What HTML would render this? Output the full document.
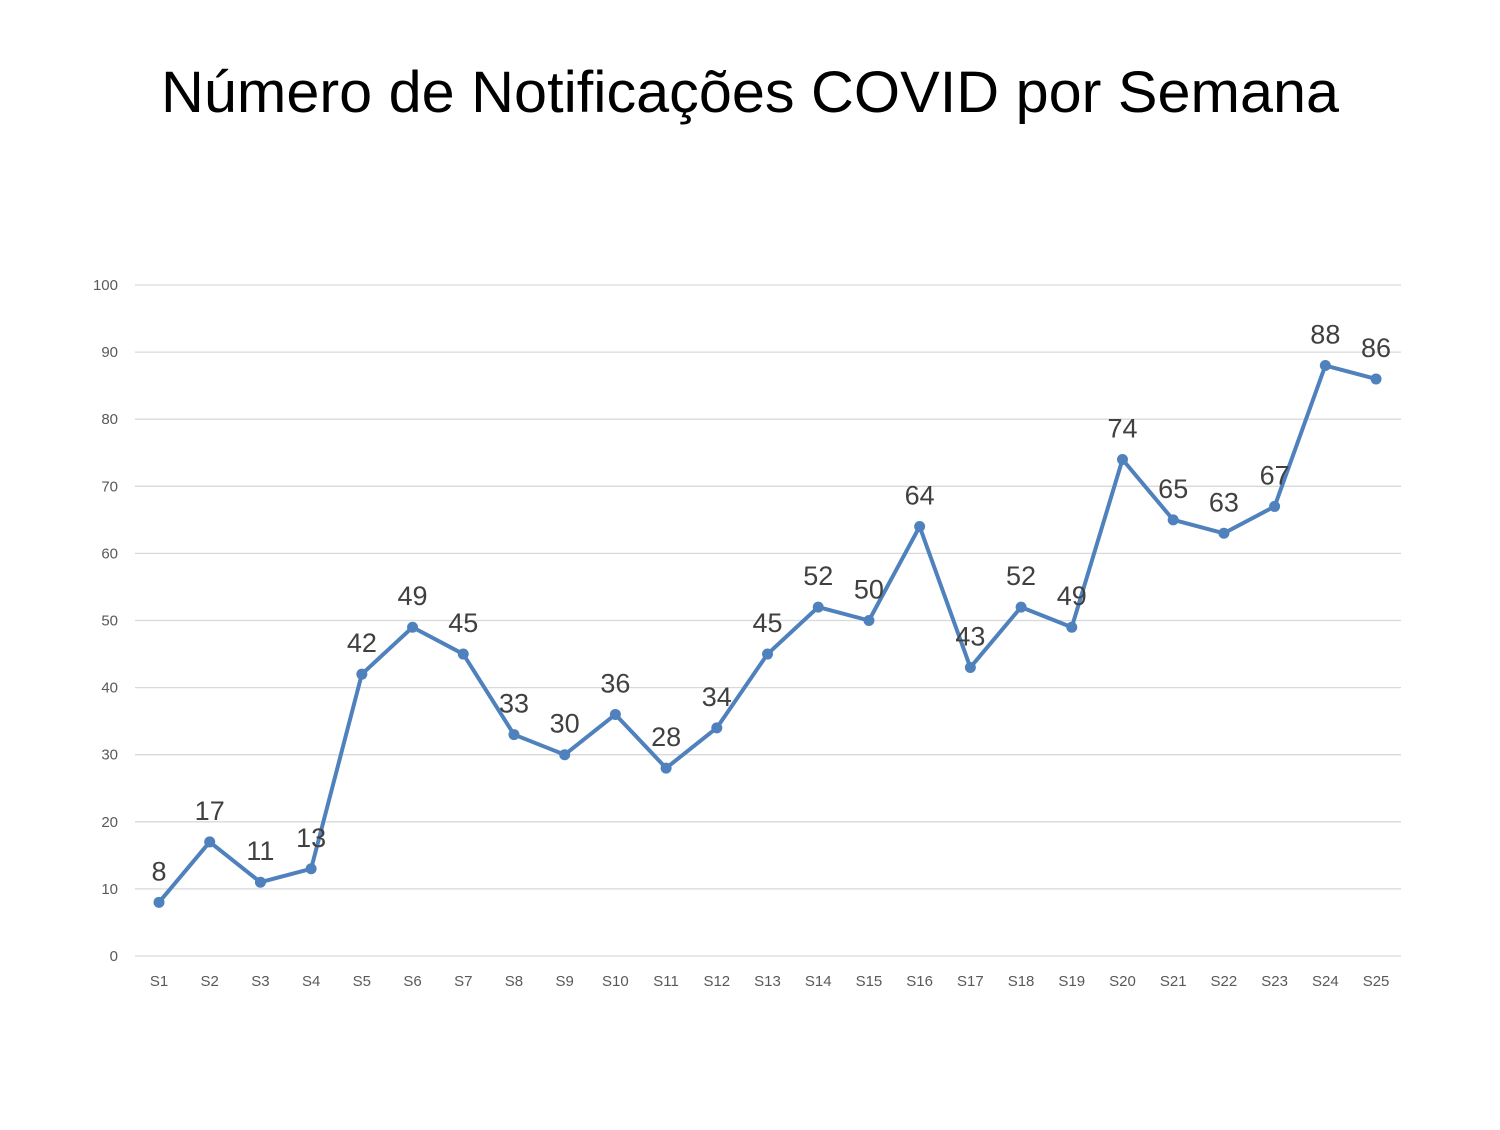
<!DOCTYPE html>
<html><head><meta charset="utf-8"><style>body{margin:0;background:#fff}</style></head><body>
<svg width="1500" height="1125" xmlns="http://www.w3.org/2000/svg" font-family="'Liberation Sans', sans-serif">
<rect width="1500" height="1125" fill="#fff"/>
<text x="750" y="112" text-anchor="middle" font-size="58" fill="#000" textLength="1178" lengthAdjust="spacingAndGlyphs">Número de Notificações COVID por Semana</text>
<g id="grid" stroke="#d9d9d9" stroke-width="1.3"></g>
<g id="yl" font-size="15" fill="#595959" text-anchor="end"></g>
<g id="xl" font-size="15" fill="#595959" text-anchor="middle"></g>
<polyline id="line" fill="none" stroke="#4f81bd" stroke-width="4" stroke-linejoin="round"/>
<g id="pts" fill="#4f81bd"></g>
<g id="dl" font-size="27" fill="#404040" text-anchor="middle"></g>
<script>
const d=[8,17,11,13,42,49,45,33,30,36,28,34,45,52,50,64,43,52,49,74,65,63,67,88,86];
const ns="http://www.w3.org/2000/svg";
const Y=v=>956-v*6.71, X=i=>159+i*50.71;
function el(p,t,a,txt){const e=document.createElementNS(ns,t);for(const k in a)e.setAttribute(k,a[k]);if(txt!==undefined)e.textContent=txt;document.getElementById(p).appendChild(e);}
for(let v=0;v<=100;v+=10){el('grid','line',{x1:135,x2:1401,y1:Y(v),y2:Y(v)});el('yl','text',{x:118,y:Y(v)+5},v);}
let pts=[];
d.forEach((v,i)=>{pts.push(X(i)+','+Y(v));el('xl','text',{x:X(i),y:986},'S'+(i+1));el('pts','circle',{cx:X(i),cy:Y(v),r:5.5});el('dl','text',{x:X(i),y:Y(v)-22},v);});
document.getElementById('line').setAttribute('points',pts.join(' '));
</script>
</svg>
</body></html>
